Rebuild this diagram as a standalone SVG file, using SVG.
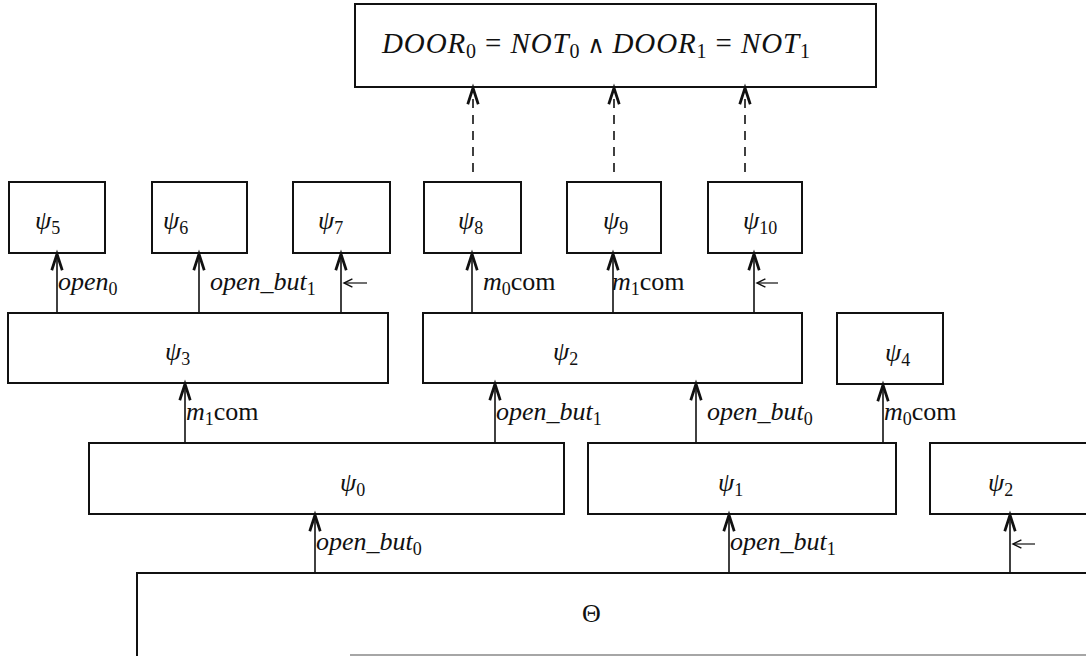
<svg xmlns="http://www.w3.org/2000/svg" width="1086" height="656" viewBox="0 0 1086 656">
  <style>
    .box { fill: #fff; stroke: #111; stroke-width: 2; }
    .edge { fill: none; stroke: #111; stroke-width: 1.6; }
    .dash { fill: none; stroke: #111; stroke-width: 1.6; stroke-dasharray: 9 7; }
    .tick { fill: none; stroke: #111; stroke-width: 1.2; }
    .m { font-family: "Liberation Serif", "DejaVu Serif", serif; font-style: italic; font-size: 26px; fill: #111; }
    .r { font-style: normal; }
    .big { font-size: 29px; }
  </style>
  <defs>
    <marker id="head" markerUnits="userSpaceOnUse" markerWidth="20" markerHeight="20" viewBox="-14 -8 16 16" refX="0" refY="0" orient="auto" overflow="visible">
      <path d="M-13,-4.2 L0,0 L-13,4.2" fill="none" stroke="#111" stroke-width="2.2"/>
    </marker>
    <marker id="small" markerUnits="userSpaceOnUse" markerWidth="12" markerHeight="12" viewBox="-8 -5 10 10" refX="0" refY="0" orient="auto" overflow="visible">
      <path d="M-7,-3.5 L0,0 L-7,3.5" fill="none" stroke="#111" stroke-width="1.2"/>
    </marker>
  </defs>

  <!-- goal box -->
  <g id="goal">
    <rect class="box" x="355" y="4" width="521" height="83"/>
    <text class="m big" x="382" y="53" textLength="428" lengthAdjust="spacing">DOOR<tspan font-size="20" dy="5" class="r">0</tspan><tspan dy="-5" class="r"> = </tspan>NOT<tspan font-size="20" dy="5" class="r">0</tspan><tspan dy="-5" class="r" font-size="24"> ∧ </tspan>DOOR<tspan font-size="20" dy="5" class="r">1</tspan><tspan dy="-5" class="r"> = </tspan>NOT<tspan font-size="20" dy="5" class="r">1</tspan></text>
  </g>

  <!-- top row -->
  <g id="psi5"><rect class="box" x="9" y="182" width="96" height="71"/><text class="m" x="35" y="229">ψ<tspan class="r" font-size="18" dy="5">5</tspan></text></g>
  <g id="psi6"><rect class="box" x="152" y="182" width="95" height="71"/><text class="m" x="163" y="229">ψ<tspan class="r" font-size="18" dy="5">6</tspan></text></g>
  <g id="psi7"><rect class="box" x="293" y="182" width="97" height="71"/><text class="m" x="318" y="229">ψ<tspan class="r" font-size="18" dy="5">7</tspan></text></g>
  <g id="psi8"><rect class="box" x="424" y="182" width="97" height="71"/><text class="m" x="458" y="229">ψ<tspan class="r" font-size="18" dy="5">8</tspan></text></g>
  <g id="psi9"><rect class="box" x="567" y="182" width="94" height="71"/><text class="m" x="603" y="229">ψ<tspan class="r" font-size="18" dy="5">9</tspan></text></g>
  <g id="psi10"><rect class="box" x="708" y="182" width="94" height="71"/><text class="m" x="743" y="229">ψ<tspan class="r" font-size="18" dy="5">10</tspan></text></g>

  <!-- second row -->
  <g id="psi3"><rect class="box" x="8" y="313" width="380" height="70"/><text class="m" x="165" y="360">ψ<tspan class="r" font-size="18" dy="5">3</tspan></text></g>
  <g id="psi2"><rect class="box" x="423" y="313" width="379" height="70"/><text class="m" x="553" y="360">ψ<tspan class="r" font-size="18" dy="5">2</tspan></text></g>
  <g id="psi4"><rect class="box" x="837" y="313" width="106" height="71"/><text class="m" x="885" y="361">ψ<tspan class="r" font-size="18" dy="5">4</tspan></text></g>

  <!-- third row -->
  <g id="psi0"><rect class="box" x="89" y="443" width="475" height="71"/><text class="m" x="340" y="491">ψ<tspan class="r" font-size="18" dy="5">0</tspan></text></g>
  <g id="psi1"><rect class="box" x="588" y="443" width="308" height="71"/><text class="m" x="718" y="491">ψ<tspan class="r" font-size="18" dy="5">1</tspan></text></g>
  <g id="psi2b"><rect class="box" x="930" y="443" width="170" height="71"/><text class="m" x="988" y="491">ψ<tspan class="r" font-size="18" dy="5">2</tspan></text></g>

  <!-- base box -->
  <g id="theta">
    <path class="box" d="M137,660 L137,573 L1090,573"/>
    <line x1="350" y1="655" x2="1086" y2="655" stroke="#888" stroke-width="1.4"/>
    <text class="m r" x="582" y="622">Θ</text>
  </g>

  <!-- connectors -->
  <g id="connectors">
    <line class="dash" x1="473" y1="172" x2="473" y2="88" marker-end="url(#head)"/>
    <line class="dash" x1="614" y1="172" x2="614" y2="88" marker-end="url(#head)"/>
    <line class="dash" x1="745" y1="172" x2="745" y2="88" marker-end="url(#head)"/>

    <line class="edge" x1="57" y1="313" x2="57" y2="254" marker-end="url(#head)"/>
    <line class="edge" x1="199" y1="313" x2="199" y2="254" marker-end="url(#head)"/>
    <line class="edge" x1="341" y1="313" x2="341" y2="254" marker-end="url(#head)"/>
    <line class="tick" x1="367" y1="283" x2="344" y2="283" marker-end="url(#small)"/>

    <line class="edge" x1="472" y1="313" x2="472" y2="254" marker-end="url(#head)"/>
    <line class="edge" x1="613" y1="313" x2="613" y2="254" marker-end="url(#head)"/>
    <line class="edge" x1="754" y1="313" x2="754" y2="254" marker-end="url(#head)"/>
    <line class="tick" x1="778" y1="283" x2="757" y2="283" marker-end="url(#small)"/>

    <line class="edge" x1="185" y1="443" x2="185" y2="384" marker-end="url(#head)"/>
    <line class="edge" x1="495" y1="443" x2="495" y2="384" marker-end="url(#head)"/>
    <line class="edge" x1="696" y1="443" x2="696" y2="384" marker-end="url(#head)"/>
    <line class="edge" x1="883" y1="443" x2="883" y2="385" marker-end="url(#head)"/>

    <line class="edge" x1="315" y1="573" x2="315" y2="515" marker-end="url(#head)"/>
    <line class="edge" x1="729" y1="573" x2="729" y2="515" marker-end="url(#head)"/>
    <line class="edge" x1="1010" y1="573" x2="1010" y2="515" marker-end="url(#head)"/>
    <line class="tick" x1="1035" y1="544" x2="1013" y2="544" marker-end="url(#small)"/>

    <text class="m" x="58" y="290">open<tspan class="r" font-size="18" dy="5">0</tspan></text>
    <text class="m" x="210" y="290">open_but<tspan class="r" font-size="18" dy="5">1</tspan></text>
    <text class="m" x="483" y="290">m<tspan class="r" font-size="18" dy="5">0</tspan><tspan class="r" dy="-5">com</tspan></text>
    <text class="m" x="612" y="290">m<tspan class="r" font-size="18" dy="5">1</tspan><tspan class="r" dy="-5">com</tspan></text>

    <text class="m" x="186" y="420">m<tspan class="r" font-size="18" dy="5">1</tspan><tspan class="r" dy="-5">com</tspan></text>
    <text class="m" x="496" y="420">open_but<tspan class="r" font-size="18" dy="5">1</tspan></text>
    <text class="m" x="707" y="420">open_but<tspan class="r" font-size="18" dy="5">0</tspan></text>
    <text class="m" x="884" y="420">m<tspan class="r" font-size="18" dy="5">0</tspan><tspan class="r" dy="-5">com</tspan></text>

    <text class="m" x="316" y="550">open_but<tspan class="r" font-size="18" dy="5">0</tspan></text>
    <text class="m" x="730" y="550">open_but<tspan class="r" font-size="18" dy="5">1</tspan></text>
  </g>
</svg>
